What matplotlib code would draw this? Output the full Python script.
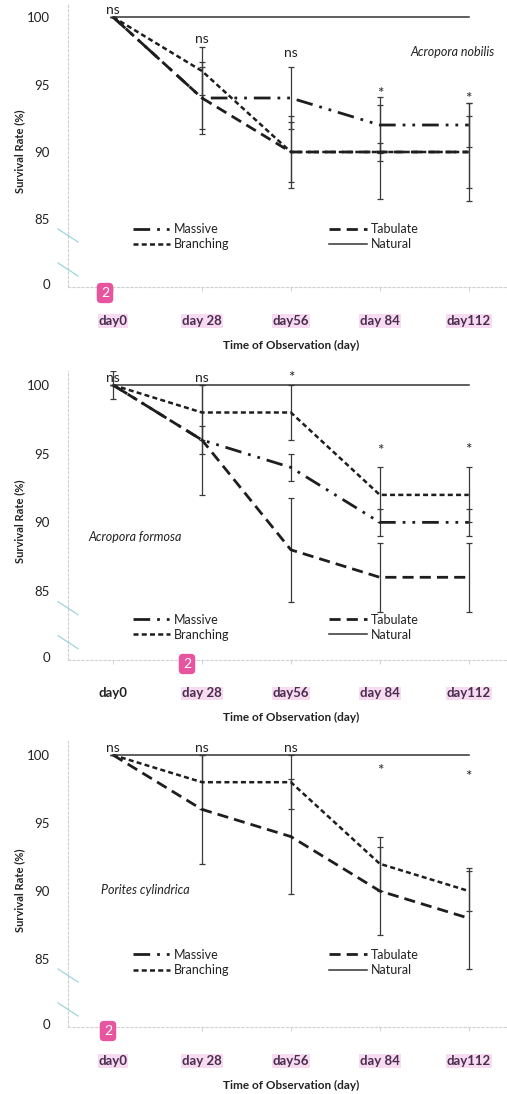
import matplotlib
matplotlib.use("Agg")
import matplotlib.pyplot as plt
from matplotlib.lines import Line2D

plt.rcParams['font.family'] = ['Lato', 'DejaVu Sans']

nan = float('nan')

# ---------------- data ----------------
days = ["day0", "day 28", "day56", "day 84", "day112"]
legend_names = ["Massive", "Tabulate", "Branching", "Natural"]
y_tick_values = [80.2, 85, 90, 95, 100]
y_tick_labels = ["0", "85", "90", "95", "100"]

# Acropora nobilis
nob_massive = [100, 94, 94, 92, 92]
nob_tabulate = [100, 94, 90, 90, 90]
nob_branching = [100, 96, 90, 90, 90]
nob_natural = [100, 100, 100, 100, 100]
nob_err_massive = [0, 2.3, 2.3, 2.1, 1.6]
nob_err_tabulate = [0, 2.7, 2.7, 3.5, 3.6]
nob_err_branching = [0, 1.8, 2.2, 0.7, 2.7]
nob_sig = ["ns", "ns", "ns", "*", "*"]
nob_sig_y = [100.5, 98.4, 97.3, 94.6, 94.2]

# Acropora formosa
for_massive = [100, 96, 94, 90, 90]
for_tabulate = [100, 96, 88, 86, 86]
for_branching = [100, 98, 98, 92, 92]
for_natural = [100, 100, 100, 100, 100]
for_err_massive = [0, 1.0, 1.0, 1.0, 1.0]
for_err_tabulate = [1.0, 4.0, 3.8, 2.5, 2.5]
for_err_branching = [0, 2.0, 2.0, 2.0, 2.0]
for_sig = ["ns", "ns", "*", "*", "*"]
for_sig_y = [100.5, 100.5, 100.8, 95.5, 95.6]

# Porites cylindrica (no visible Massive line)
por_massive = [nan, nan, nan, nan, nan]
por_tabulate = [100, 96, 94, 90, 88]
por_branching = [100, 98, 98, 92, 90]
por_natural = [100, 100, 100, 100, 100]
por_err_massive = [0, 0, 0, 0, 0]
por_err_tabulate = [0, 4.0, 4.2, 3.2, 3.7]
por_err_branching = [0, 2.0, 2.0, 2.0, 1.5]
por_sig = ["ns", "ns", "ns", "*", "*"]
por_sig_y = [100.5, 100.5, 100.5, 99.1, 98.7]

species = ["Acropora nobilis", "Acropora formosa", "Porites cylindrica"]

# --------------- figure ----------------
W, H = 507, 1094
fig = plt.figure(figsize=(W / 100, H / 100), dpi=100)
fig.patch.set_facecolor('white')

def fx(px):
    return px / W

def fy(py):
    return 1 - py / H

# axes positions in pixels: (top pixel of value 101, bottom pixel of value 80)
panel_px = [(3.5, 287.0), (371.3, 659.7), (741.4, 1027.0)]
ax_left, ax_right = 68, 507

DARK = '#1e1e1e'
styles = {
    "Massive": dict(ls=(0, (6, 2.5, 1, 2.5, 1, 2.5)), lw=2.0),
    "Tabulate": dict(ls=(0, (4, 2.2)), lw=2.0),
    "Branching": dict(ls=(0, (2.0, 1.3)), lw=1.8),
    "Natural": dict(ls='-', lw=1.1),
}

panels = [
    dict(m=nob_massive, t=nob_tabulate, b=nob_branching, n=nob_natural,
         em=nob_err_massive, et=nob_err_tabulate, eb=nob_err_branching,
         sig=nob_sig, sigy=nob_sig_y,
         sp=dict(x=3.82, y=97.4, ha='center'), leg_y=84.75, badge=(105, 293)),
    dict(m=for_massive, t=for_tabulate, b=for_branching, n=for_natural,
         em=for_err_massive, et=for_err_tabulate, eb=for_err_branching,
         sig=for_sig, sigy=for_sig_y,
         sp=dict(x=-0.28, y=88.9, ha='left'), leg_y=83.35, badge=(187, 664)),
    dict(m=por_massive, t=por_tabulate, b=por_branching, n=por_natural,
         em=por_err_massive, et=por_err_tabulate, eb=por_err_branching,
         sig=por_sig, sigy=por_sig_y,
         sp=dict(x=-0.14, y=90.1, ha='left'), leg_y=85.75, badge=(108, 1031)),
]

x = list(range(len(days)))

for i, (p, (top_px, bot_px)) in enumerate(zip(panels, panel_px)):
    ax = fig.add_axes([fx(ax_left), fy(bot_px), fx(ax_right - ax_left),
                       (bot_px - top_px) / H])
    ax.set_xlim(-0.506, 4.43)
    ax.set_ylim(80, 101)

    # error bars
    for vals, errs in [(p['m'], p['em']), (p['t'], p['et']), (p['b'], p['eb'])]:
        ax.errorbar(x, vals, yerr=errs, fmt='none', ecolor='#3a3a3a',
                    elinewidth=0.9, capsize=2.5, capthick=0.9, zorder=2)

    h_m, = ax.plot(x, p['m'], color=DARK, label="Massive", zorder=3, **styles["Massive"])
    h_t, = ax.plot(x, p['t'], color=DARK, label="Tabulate", zorder=3, **styles["Tabulate"])
    h_b, = ax.plot(x, p['b'], color=DARK, label="Branching", zorder=3, **styles["Branching"])
    h_n, = ax.plot(x, p['n'], color='#333333', label="Natural", zorder=4, **styles["Natural"])

    for xi, s, sy in zip(x, p['sig'], p['sigy']):
        if s == 'ns':
            ax.text(xi, sy, s, ha='center', va='center', fontsize=10, color='#222222')
        else:
            ax.annotate(s, (xi, sy), xytext=(0, -3), textcoords='offset points',
                        ha='center', va='center', fontsize=11, color='#222222')

    ax.text(p['sp']['x'], p['sp']['y'], species[i], style='italic',
            fontsize=9, ha=p['sp']['ha'], va='center', color='#222222')

    leg = ax.legend([h_m, h_b, h_t, h_n], ["Massive", "Branching", "Tabulate", "Natural"],
                    ncol=2, frameon=False, fontsize=9,
                    loc='upper left', bbox_to_anchor=(0.22, p['leg_y']),
                    bbox_transform=ax.transData, borderpad=0, borderaxespad=0,
                    handlelength=3.0, handletextpad=0.3, columnspacing=8.0,
                    labelspacing=0.25)
    for t in leg.get_texts():
        t.set_color('#222222')

    # axes styling
    for s in ['top', 'right']:
        ax.spines[s].set_visible(False)
    for s in ['left', 'bottom']:
        ax.spines[s].set_color('#d0d0d0')
        ax.spines[s].set_linestyle((0, (2, 2)))
        ax.spines[s].set_linewidth(0.8)

    ax.set_yticks(y_tick_values)
    ax.set_yticklabels(y_tick_labels)
    ax.tick_params(axis='y', length=0, pad=13, labelsize=9.5, labelcolor='#222222')
    ax.set_xticks(x)
    ax.set_xticklabels(days)
    ax.tick_params(axis='x', length=3, color='#d8d8d8', pad=17, labelsize=9.5,
                   labelcolor='#4a2c50')
    for lab in ax.get_xticklabels():
        lab.set_fontweight('bold')
        if not (i == 1 and lab.get_text() == 'day0'):
            lab.set_bbox(dict(facecolor='#f7dcf1', edgecolor='none', pad=0.6))
        else:
            lab.set_color('#222222')

    # axis titles
    mid_px = (top_px + bot_px) / 2 + 6
    fig.text(fx(20), fy(mid_px), "Survival Rate (%)", rotation=90, ha='center',
             va='center', fontsize=8, fontweight='bold', color='#222222')
    fig.text(fx(291), fy(bot_px + 58), "Time of Observation (day)", ha='center',
             va='center', fontsize=8.5, fontweight='bold', color='#222222')

    # axis-break marks
    for dy in (-58, -24):
        fig.add_artist(Line2D([fx(58), fx(78)], [fy(bot_px + dy), fy(bot_px + dy + 13)],
                              color='#86cbd3', lw=0.9, alpha=0.8))

    # pink badge
    bx, by = p['badge']
    fig.text(fx(bx), fy(by), "2", ha='center', va='center', fontsize=10,
             color='white', bbox=dict(boxstyle='round,pad=0.3', facecolor='#e8559f',
                                      edgecolor='none'))

fig.savefig("out.png", dpi=100, facecolor='white')
